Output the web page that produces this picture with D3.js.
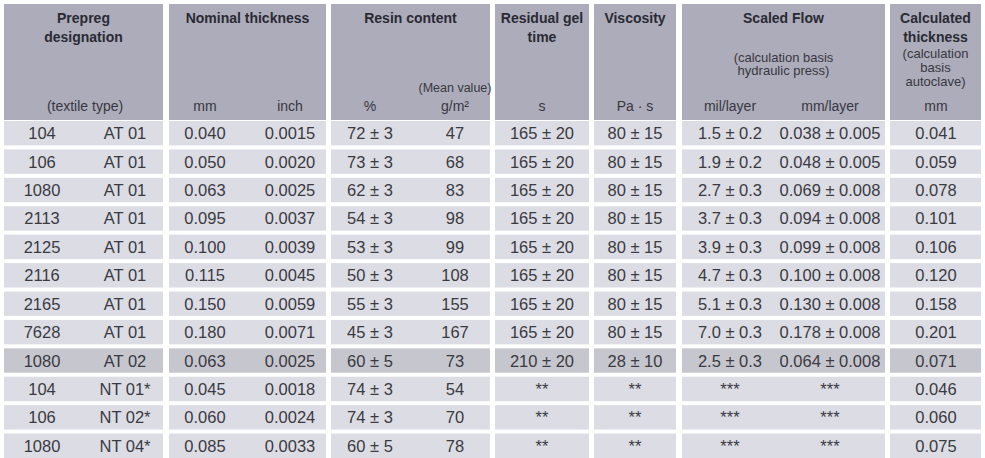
<!DOCTYPE html>
<html><head><meta charset="utf-8">
<script src="https://cdn.jsdelivr.net/npm/d3@7"></script>
<style>body{margin:0;background:#fff}text{font-family:"Liberation Sans",Arial,sans-serif}</style>
</head><body><svg id="c" width="985" height="458"></svg>
<script>
const groupTitles = [["Prepreg","designation"],["Nominal thickness"],["Resin content"],["Residual gel","time"],["Viscosity"],["Scaled Flow"],["Calculated","thickness"]];
const groupNotes = [[],[],[],[],[],["(calculation basis","hydraulic press)"],["(calculation","basis","autoclave)"]];
const unitLabels = ["(textile type)","mm","inch","%","g/m²","s","Pa · s","mil/layer","mm/layer","mm"];
const designation = ["104","106","1080","2113","2125","2116","2165","7628","1080","104","106","1080"];
const textileType = ["AT 01","AT 01","AT 01","AT 01","AT 01","AT 01","AT 01","AT 01","AT 02","NT 01*","NT 02*","NT 04*"];
const thickMm = ["0.040","0.050","0.063","0.095","0.100","0.115","0.150","0.180","0.063","0.045","0.060","0.085"];
const thickInch = ["0.0015","0.0020","0.0025","0.0037","0.0039","0.0045","0.0059","0.0071","0.0025","0.0018","0.0024","0.0033"];
const resinPct = ["72 ± 3","73 ± 3","62 ± 3","54 ± 3","53 ± 3","50 ± 3","55 ± 3","45 ± 3","60 ± 5","74 ± 3","74 ± 3","60 ± 5"];
const resinGsm = ["47","68","83","98","99","108","155","167","73","54","70","78"];
const gelTime = ["165 ± 20","165 ± 20","165 ± 20","165 ± 20","165 ± 20","165 ± 20","165 ± 20","165 ± 20","210 ± 20","**","**","**"];
const viscosity = ["80 ± 15","80 ± 15","80 ± 15","80 ± 15","80 ± 15","80 ± 15","80 ± 15","80 ± 15","28 ± 10","**","**","**"];
const flowMil = ["1.5 ± 0.2","1.9 ± 0.2","2.7 ± 0.3","3.7 ± 0.3","3.9 ± 0.3","4.7 ± 0.3","5.1 ± 0.3","7.0 ± 0.3","2.5 ± 0.3","***","***","***"];
const flowMm = ["0.038 ± 0.005","0.048 ± 0.005","0.069 ± 0.008","0.094 ± 0.008","0.099 ± 0.008","0.100 ± 0.008","0.130 ± 0.008","0.178 ± 0.008","0.064 ± 0.008","***","***","***"];
const calcThick = ["0.041","0.059","0.078","0.101","0.106","0.120","0.158","0.201","0.071","0.046","0.060","0.075"];

// layout
const groupX = [[4,163],[169,326],[331,490],[495,589],[594,676],[682,885],[890,981]];
const colX = [42,125,205,290,370,455,542,635,730,830,936];
const unitX = [85,205,290,370,455,542,635,730,830,936];
const columns = [designation,textileType,thickMm,thickInch,resinPct,resinGsm,gelTime,viscosity,flowMil,flowMm,calcThick];
const svg = d3.select("#c");
const y = d3.scaleBand().domain(d3.range(designation.length)).range([121,458]).paddingInner(0.14).paddingOuter(0);

groupX.forEach((g,i)=>{
  svg.append("rect").attr("x",g[0]).attr("y",4).attr("width",g[1]-g[0]).attr("height",116).attr("fill","#acacbb");
  const cx=(g[0]+g[1])/2;
  groupTitles[i].forEach((t,j)=>svg.append("text").attr("x",cx).attr("y",23+j*19).attr("text-anchor","middle")
    .attr("font-size",14).attr("font-weight","bold").attr("fill","#2a2a33").text(t));
  groupNotes[i].forEach((t,j)=>svg.append("text").attr("x",cx).attr("y",(i===5?62:58)+j*(i===5?13:14)).attr("text-anchor","middle")
    .attr("font-size",13).attr("fill","#383840").text(t));
  d3.range(designation.length).forEach(r=>{
    svg.append("rect").attr("x",g[0]).attr("y",y(r)).attr("width",g[1]-g[0]).attr("height",y.bandwidth())
      .attr("fill",r===8?"#c6c6cf":"#dcdce5");
  });
});
svg.append("text").attr("x",455).attr("y",92).attr("text-anchor","middle").attr("font-size",12.5).attr("fill","#383840").text("(Mean value)");
unitLabels.forEach((u,i)=>svg.append("text").attr("x",unitX[i]).attr("y",111).attr("text-anchor","middle")
  .attr("font-size",14).attr("fill","#383840").text(u));
columns.forEach((col,c)=>{
  svg.selectAll(null).data(col).join("text").attr("x",colX[c]).attr("y",(d,r)=>y(r)+y.bandwidth()/2+6)
    .attr("text-anchor","middle").attr("font-size",16.5).attr("fill","#3a3a40").text(d=>d);
});
</script></body></html>
